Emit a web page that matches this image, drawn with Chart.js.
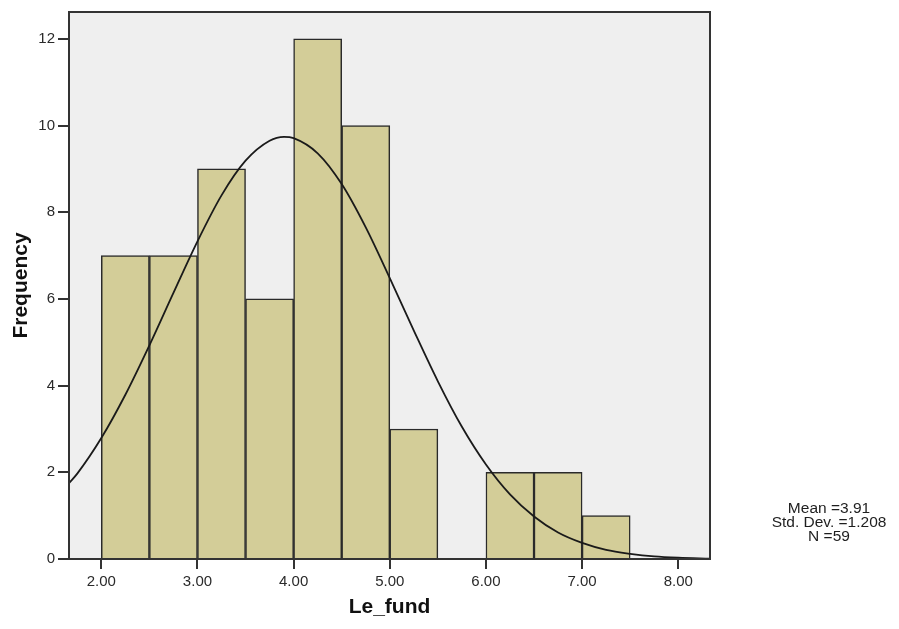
<!DOCTYPE html>
<html>
<head>
<meta charset="utf-8">
<script src="https://cdn.jsdelivr.net/npm/chart.js@4"></script>
<style>
  body { margin: 0; background: #fff; }
  #wrap { width: 899px; height: 629px; }
</style>
</head>
<body>
<div id="wrap"><canvas id="histChart" width="899" height="629"></canvas></div>
<script>
// histogram bins (bin centres, width 0.5)
const binCenters = [2.25, 2.75, 3.25, 3.75, 4.25, 4.75, 5.25, 5.75, 6.25, 6.75, 7.25];
const frequencies = [7, 7, 9, 6, 12, 10, 3, 0, 2, 2, 1];

// normal curve
const curveX = [1.664, 1.75, 2.0, 2.25, 2.5, 2.75, 3.0, 3.25, 3.5, 3.75, 3.9, 4.0, 4.25, 4.5, 4.75, 5.0, 5.25, 5.5, 5.75, 6.0, 6.25, 6.5, 6.75, 7.0, 7.25, 7.5, 7.75, 8.0, 8.33];
const curveY = [1.75, 1.97, 2.79, 3.79, 4.93, 6.14, 7.33, 8.39, 9.19, 9.65, 9.74, 9.71, 9.36, 8.65, 7.65, 6.48, 5.27, 4.10, 3.05, 2.18, 1.49, 0.98, 0.61, 0.37, 0.21, 0.12, 0.06, 0.03, 0.01];

const xTicks = [2, 3, 4, 5, 6, 7, 8];
const yTicks = [0, 2, 4, 6, 8, 10, 12];
const statLines = ["Mean =3.91", "Std. Dev. =1.208", "N =59"];

const plotBox = {
    id: "plotBox",
    beforeDraw(chart) {
        const a = chart.chartArea;
        const c = chart.ctx;
        c.save();
        c.fillStyle = "#efefef";
        c.fillRect(a.left, a.top, a.right - a.left, a.bottom - a.top);
        c.restore();
    },
    afterDatasetsDraw(chart) {
        const a = chart.chartArea;
        const c = chart.ctx;
        c.save();
        c.strokeStyle = "#333";
        c.lineWidth = 2;
        c.strokeRect(a.left, a.top, a.right - a.left, a.bottom - a.top);
        c.restore();
    },
    afterDraw(chart) {
        // stats box text, right of the plot
        const c = chart.ctx;
        c.save();
        c.fillStyle = "#1e1e1e";
        c.font = "15.5px 'Liberation Sans', Arial, sans-serif";
        c.textAlign = "center";
        c.textBaseline = "middle";
        statLines.forEach((t, i) => c.fillText(t, 829, 509 + i * 14));
        c.restore();
    }
};

const ctx = document.getElementById("histChart").getContext("2d");
new Chart(ctx, {
    data: {
        datasets: [{
            type: "line",
            data: curveX.map((x, i) => ({ x: x, y: curveY[i] })),
            borderColor: "#1a1a1a",
            borderWidth: 1.8,
            pointRadius: 0,
            tension: 0.4,
            cubicInterpolationMode: "monotone",
            order: 0
        }, {
            type: "bar",
            data: binCenters.map((x, i) => ({ x: x, y: frequencies[i] })),
            backgroundColor: "#d3cd98",
            borderColor: "#2a2a2a",
            borderWidth: 1.5,
            barPercentage: 1,
            categoryPercentage: 1,
            order: 1
        }]
    },
    options: {
        responsive: false,
        animation: false,
        layout: { padding: { top: 10, right: 189, left: 0, bottom: 0 } },
        plugins: {
            legend: { display: false },
            tooltip: { enabled: false }
        },
        scales: {
            x: {
                type: "linear",
                min: 1.664,
                max: 8.33,
                offset: false,
                afterBuildTicks: s => { s.ticks = xTicks.map(v => ({ value: v })); },
                afterFit: s => { s.height = 70; },
                ticks: {
                    padding: 4,
                    color: "#2a2a2a",
                    font: { family: "'Liberation Sans', Arial, sans-serif", size: 15 },
                    callback: v => v.toFixed(2)
                },
                grid: { offset: false, drawOnChartArea: false, drawTicks: true, tickLength: 10, color: "#333", lineWidth: 2 },
                border: { display: false },
                title: {
                    display: true,
                    text: "Le_fund",
                    color: "#111",
                    padding: { top: 0, bottom: 9 },
                    font: { family: "'Liberation Sans', Arial, sans-serif", size: 21, weight: "bold" }
                }
            },
            y: {
                min: 0,
                max: 12.62,
                afterBuildTicks: s => { s.ticks = yTicks.map(v => ({ value: v })); },
                afterFit: s => { s.width = 69; },
                ticks: {
                    padding: 3,
                    color: "#2a2a2a",
                    font: { family: "'Liberation Sans', Arial, sans-serif", size: 15 }
                },
                grid: { drawOnChartArea: false, drawTicks: true, tickLength: 11, color: "#333", lineWidth: 2 },
                border: { display: false },
                title: {
                    display: true,
                    text: "Frequency",
                    color: "#111",
                    padding: { top: 9, bottom: 0 },
                    font: { family: "'Liberation Sans', Arial, sans-serif", size: 21, weight: "bold" }
                }
            }
        }
    },
    plugins: [plotBox]
});
</script>
</body>
</html>
